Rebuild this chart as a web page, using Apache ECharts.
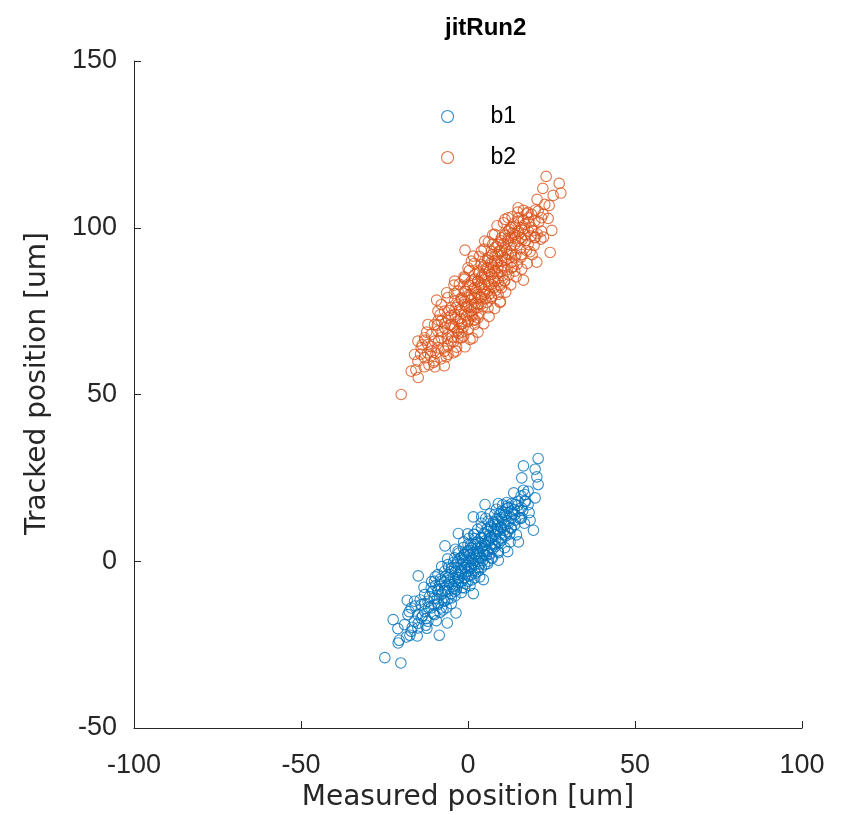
<!DOCTYPE html>
<html>
<head>
<meta charset="utf-8">
<script src="https://cdn.jsdelivr.net/npm/echarts@6/dist/echarts.min.js"></script>
<style>html,body{margin:0;padding:0;background:#fff;}#c{width:854px;height:815px;}</style>
</head>
<body>
<div id="c"></div>
<script>
var titleText = 'jitRun2';
var xAxisName = 'Measured position [um]';
var yAxisName = 'Tracked position [um]';
var seriesNames = ['b1', 'b2'];
var xTicks = [-100, -50, 0, 50, 100];
var yTicks = [-50, 0, 50, 100, 150];

// b1 (blue): [measured, tracked]
var b1Outliers = [[-24.9,-28.9],[-20.1,-30.5],[-20.6,-23.7],[-20.9,-24.5],[-17.4,-22.2],[-8.6,-22.2],[-6.2,-18.5],
 [-22.4,-17.5],[-21,-20.2],[-14.9,-4.4],[-3.6,-15.5],[-12.6,-19.2],[-18.2,-11.7],[1.6,-9.7],[4.6,-5.5],[9.1,0.3],
 [21,30.8],[16.6,28.6],[20.1,27.6],[20.6,25.3],[16.1,25],[21,23],[16.6,21.3],[20.1,19],[5.1,17],[11.6,17.6],
 [9.1,17.3],[1.6,13.3],[4.1,13.3],[19.6,9.3],[18.6,12.3],[15.6,12.8],[15.1,5.8],[-6.9,4.6],[-2.9,8.3],[12.6,5.8]];
var b1Core = [[-19,-19],[-18,-16],[-17,-21],[-17,-14],[-16,-18],[-16,-12],[-15,-16],[-15,-20],[-14,-13],[-14,-17],
 [-13,-10],[-13,-15],[-12,-18],[-12,-12],[-11,-14],[-11,-8],[-10,-11],[-10,-16],[-10,-6],[-9,-13],[-9,-9],[-9,-4],
 [-8,-10],[-8,-14],[-8,-6],[-7,-8],[-7,-3],[-7,-12],[-6,-9],[-6,-5],[-6,-1],[-5,-7],[-5,-3],[-5,-11],[-4,-6],[-4,-2],
 [-4,1],[-4,-9],[-3,-4],[-3,0],[-3,-7],[-3,3],[-2,-3],[-2,-6],[-2,1],[-2,-1],[-1,-2],[-1,2],[-1,-5],[-1,-8],[0,0],
 [0,-3],[0,3],[0,-6],[0,5],[1,1],[1,-2],[1,4],[1,-4],[2,2],[2,-1],[2,5],[2,-5],[2,8],[3,3],[3,0],[3,6],[3,-3],[4,4],
 [4,1],[4,7],[4,-2],[4,10],[5,5],[5,2],[5,8],[5,-1],[6,6],[6,3],[6,9],[6,0],[6,12],[7,7],[7,4],[7,10],[7,1],[8,8],
 [8,5],[8,11],[8,14],[9,9],[9,6],[9,12],[9,3],[10,10],[10,7],[10,13],[10,15],[11,11],[11,8],[11,14],[12,12],[12,9],
 [12,16],[13,13],[13,10],[13,15],[14,14],[14,11],[14,17],[15,15],[15,18],[16,16],[16,13],[17,18],[17,20],[18,17],[18,21],
 [-7.8,-9.6],[-6.3,-7.1],[-5.1,-9.8],[-4.4,-5.2],[-3.7,-3.1],[-2.9,-6.4],[-2.2,-2.7],[-1.6,0.4],[-0.8,-3.9],[-0.3,-1.2],
 [0.4,1.8],[0.9,-1.5],[1.5,2.6],[2.1,0.3],[2.7,3.9],[3.3,1.2],[3.8,5.4],[4.5,2.9],[5.2,6.1],[5.8,3.3],[6.4,7.7],[7.1,5.2],
 [7.7,9.4],[8.3,6.6],[8.9,10.8],[9.6,8.1],[10.2,12.5],[10.9,9.3],[11.5,13.6],[12.2,11.4],[-9.3,-11.2],[-8.6,-7.4],
 [-7.2,-11.8],[-6.7,-4.6],[-5.6,-6.3],[-4.9,-2.1],[-4.1,-8.2],[-3.3,-0.9],[-2.6,-5.0],[-1.9,-3.6],[-1.2,1.9],[-0.6,-0.5],
 [0.1,-4.4],[0.7,3.2],[1.2,0.6],[1.9,-2.8],[2.4,5.7],[3.0,2.2],[3.6,-0.8],[4.2,4.6],[4.8,8.3],[5.5,1.7],[6.1,5.9],
 [6.8,10.6],[7.4,3.6],[8.0,8.9],[8.7,12.7],[9.3,5.4],[9.9,10.3],[10.6,14.8],[11.3,7.6],[12.0,15.9],[12.8,9.9],[13.4,14.2],
 [14.1,12.3],[14.8,16.7],[-11.8,-13.9],[-10.7,-9.1],[-10.1,-13.1],[-9.7,-7.3],[-8.9,-12.6],[-8.2,-5.3],[-7.5,-14.6],
 [-6.9,-8.8],[-6.0,-11.3],[-5.4,-4.0],[-4.6,-7.7],[-3.9,-10.4],[-3.1,-4.9],[-2.4,0.8],[-1.7,-7.9],[-1.0,-1.8],[-0.4,2.7],
 [0.2,-2.1],[0.8,4.9],[1.4,-0.6],[2.0,6.8],[2.6,1.5],[3.2,-1.9],[3.9,7.1],[4.4,0.2],[5.0,3.9],[5.7,9.7],[6.3,2.1],
 [6.9,7.3],[7.6,11.8],[8.1,4.4],[8.8,9.7],[9.5,13.9],[10.1,6.3],[10.8,11.6],[11.7,16.5],[12.5,8.2],[13.1,17.3],[13.9,15.5],
 [15.3,13.1],[15.9,19.6],[16.4,15.2],[17.2,17.9],[-16.7,-19.8],[-15.8,-13.4],[-14.9,-18.6],[-14.3,-11.6],[-13.6,-16.4],
 [-12.9,-12.7],[-12.3,-20.1],[-11.5,-10.6],[-10.4,-15.7],[-9.8,-4.7],[-9.0,-8.5],[-8.4,-15.3],[-7.0,-6.2],[-6.5,-13.9],
 [-5.8,-1.8],[-5.0,-12.7],[-4.3,-0.3],[-3.5,-8.6],[-2.8,2.4],[-2.0,-9.4],[-1.4,4.1],[-0.7,-6.8],[0.3,6.9],[0.6,-7.3],
 [1.7,8.1],[1.1,-5.6],[2.9,9.6],[2.3,-3.6],[4.0,11.4],[3.5,-4.7],[5.3,12.9],[5.9,-0.7],[6.6,14.2],[7.3,0.9],[8.5,15.6],
 [9.1,2.6],[10.4,16.9],[11.0,4.1],[-13.2,-7.8],[-10.9,-6.1],[-17.6,-15.1],[-18.4,-22.7],[-15.2,-22.4],[-12.6,-17.2],
 [-9.5,-17.8],[-7.9,-1.6],[-6.1,0.7],[-3.8,3.6],[-1.3,5.8],[-0.1,8.2],[14.5,7.9],[16.9,11.4],[18.3,14.6],[13.7,20.5],[11.9,2.9]];

// b2 (orange): [measured, tracked]
var b2Outliers = [[-20,50],[-14.9,55.1],[-13.1,58.3],[-9.9,58.3],[-10.1,60.1],[-12.1,62.5],[-4.4,62.5],[-3.6,63],
 [0.6,66.5],[-12.9,66.3],[-9.4,78.3],[-4.2,82.8],[-1.2,85.3],[16.6,84.3],[9.6,77.6],[2.1,72.3],[-1.9,68.8],[-8.9,72.3],
 [-6.4,80.5],[23.4,115.4],[27.3,113.3],[27.8,110.4],[22.4,111.8],[20.7,108.5],[24.3,106.7],[25.5,109.7],[11.1,102.5],
 [14.1,100.2],[16.6,105.2],[17.6,104.2],[24,102.8],[24.6,92.6],[25.1,99.2],[22.6,97.2],[-0.9,93.3],[1.6,91.5],[7.4,95.1],
 [20.6,89.7],[20.1,97.2]];
var b2Core = [[-17,57],[-16,62],[-15,60],[-14,64],[-13,61],[-13,67],[-12,65],[-11,68],[-11,63],[-10,66],[-10,71],[-9,69],
 [-9,64],[-8,72],[-8,67],[-7,70],[-7,75],[-6,68],[-6,73],[-5,71],[-5,76],[-5,66],[-4,74],[-4,78],[-4,70],[-3,72],[-3,77],
 [-3,81],[-2,75],[-2,79],[-2,71],[-1,77],[-1,81],[-1,74],[0,79],[0,76],[0,83],[0,72],[1,80],[1,77],[1,84],[1,74],[2,82],
 [2,79],[2,86],[2,76],[3,84],[3,80],[3,87],[3,77],[4,85],[4,82],[4,89],[4,79],[5,86],[5,83],[5,90],[5,80],[6,88],[6,84],
 [6,91],[6,81],[7,89],[7,86],[7,93],[7,83],[8,90],[8,87],[8,94],[8,84],[9,92],[9,88],[9,95],[9,85],[10,93],[10,90],[10,97],
 [10,87],[11,94],[11,91],[11,98],[11,88],[12,96],[12,92],[12,99],[13,97],[13,93],[13,100],[14,98],[14,95],[14,91],[15,99],
 [15,96],[15,102],[16,100],[16,97],[17,101],[17,98],[18,103],[18,99],[19,104],[19,100],[20,102],[21,105],[22,103],[23,107],
 [-8,77],[-6,62],[-4,84],[-2,67],[0,88],[2,71],[4,93],[6,76],[8,98],[10,82],[12,103],[14,87],[-12,71],[-15,66],[1,90],
 [3,73],[5,96],[7,79],[9,80],[11,84],[13,88],[16,92],[18,95],[-1,85],[-3,67],[-7,63],[-9,75],[20,97],[22,99],[15,106],
 [-6.2,66.8],[-5.4,70.9],[-4.7,67.3],[-3.9,72.6],[-3.2,69.1],[-2.5,75.4],[-1.8,71.2],[-1.1,77.9],[-0.4,73.6],[0.3,79.8],
 [1.0,75.1],[1.6,81.7],[2.3,77.4],[2.9,83.9],[3.6,79.2],[4.2,85.6],[4.9,80.8],[5.5,87.9],[6.2,82.6],[6.8,89.4],[7.5,84.7],
 [8.1,91.6],[8.8,86.2],[9.4,93.1],[10.1,88.5],[10.7,95.2],[11.4,90.3],[12.0,96.8],[12.7,92.1],[13.3,98.4],[-7.4,63.9],
 [-6.8,71.4],[-5.9,64.6],[-5.0,73.7],[-4.3,65.9],[-3.6,76.1],[-2.8,68.3],[-2.1,78.6],[-1.5,70.1],[-0.7,80.9],[-0.1,71.8],
 [0.6,82.7],[1.3,73.5],[2.0,84.6],[2.6,75.9],[3.3,86.4],[3.9,77.1],[4.6,88.2],[5.2,78.7],[5.9,90.3],[6.5,80.2],[7.2,91.9],
 [7.8,82.1],[8.5,94.3],[9.1,83.8],[9.8,96.1],[10.4,85.7],[11.1,97.6],[11.7,87.4],[12.4,99.5],[13.0,89.6],[13.7,101.2],
 [14.3,91.8],[15.0,102.9],[15.6,93.7],[16.2,96.4],[16.9,99.8],[17.5,93.2],[18.2,101.6],[18.8,97.5],[-9.6,62.4],[-8.8,66.1],
 [-8.1,60.7],[-7.7,68.8],[-6.5,61.3],[-5.7,75.2],[-4.5,70.4],[-3.4,64.2],[-2.3,72.8],[-1.3,67.5],[-0.5,76.4],[0.1,69.6],
 [0.9,78.3],[1.8,72.4],[2.5,80.6],[3.1,74.2],[3.7,82.9],[4.4,76.3],[5.1,84.5],[5.7,77.6],[6.4,86.8],[7.0,79.4],[7.6,88.1],
 [8.3,81.2],[8.9,89.9],[9.6,82.7],[10.3,91.7],[10.9,84.2],[11.5,93.4],[12.2,85.9],[12.9,94.8],[13.5,88.3],[14.1,96.9],
 [14.7,89.1],[15.3,98.2],[15.9,91.2],[16.6,102.3],[17.3,96.1],[17.9,104.6],[18.6,92.8],[19.4,99.1],[20.1,105.3],[21.2,101.7],
 [21.8,96.6],[22.5,104.1],[-11.7,58.9],[-10.8,64.3],[-10.3,59.6],[-9.2,70.8],[-12.4,68.7],[-14.2,62.1],[-15.6,57.4],
 [-13.7,64.9],[-11.2,61.5],[-8.4,73.9],[-7.1,58.6],[-6.0,79.1],[-4.1,80.3],[-2.6,83.1],[-1.0,84.6],[0.4,87.2],[1.9,89.3],
 [3.4,91.4],[4.8,93.6],[6.1,95.8],[7.4,97.9],[8.7,100.6],[-0.9,64.3],[1.4,66.9],[3.0,68.7],[4.7,71.2],[6.3,73.4],[8.0,75.8],
 [9.7,77.9],[11.3,80.7],[12.8,82.9],[14.4,85.3],[16.1,87.6],[17.7,89.3],[19.2,91.9],[19.8,94.7],[20.7,98.2],[14.9,104.7],
 [13.2,103.3],[10.6,101.5]];

var colors = ['#0072BD', '#D95319'];
var axisColor = '#262626';
var sansFont = '"Liberation Sans", Arial, Helvetica, sans-serif';
var wideFont = '"DejaVu Sans", "Liberation Sans", sans-serif';

var chart = echarts.init(document.getElementById('c'), null, {renderer: 'canvas'});
function makeSeries(name, data, color) {
  return {
    name: name,
    type: 'scatter',
    data: data,
    symbol: 'circle',
    symbolSize: 10.5,
    itemStyle: {color: 'rgba(255,255,255,0)', borderColor: color, borderWidth: 1.1},
    emphasis: {disabled: true},
    animation: false
  };
}
chart.setOption({
  animation: false,
  backgroundColor: '#ffffff',
  title: {
    text: titleText, left: 440, top: 11,
    textStyle: {fontFamily: sansFont, fontSize: 24, fontWeight: 'bold', color: '#000'}
  },
  legend: {
    orient: 'vertical', left: 436, top: 100,
    itemWidth: 12, itemHeight: 12, itemGap: 18,
    data: seriesNames.map(function (n, i) {
      return {name: n, icon: 'circle',
        itemStyle: {color: 'rgba(255,255,255,0)', borderColor: colors[i], borderWidth: 1.1}};
    }),
    textStyle: {fontFamily: sansFont, fontSize: 23, color: '#000', padding: [0, 0, 0, 32]}
  },
  grid: {left: 134, right: 52, top: 61, bottom: 87, containLabel: false, outerBoundsMode: 'none'},
  xAxis: {
    type: 'value', min: xTicks[0], max: xTicks[xTicks.length - 1], interval: 50,
    name: xAxisName, nameLocation: 'middle', nameGap: 55,
    nameTextStyle: {fontFamily: wideFont, fontSize: 28, color: axisColor},
    axisLine: {show: true, onZero: false, lineStyle: {color: axisColor, width: 1}},
    axisTick: {show: true, inside: true, length: 7, lineStyle: {color: axisColor}},
    axisLabel: {fontFamily: sansFont, fontSize: 27, color: axisColor, margin: 24},
    splitLine: {show: false}
  },
  yAxis: {
    type: 'value', min: yTicks[0], max: yTicks[yTicks.length - 1], interval: 50,
    name: yAxisName, nameLocation: 'middle', nameGap: 82, nameRotate: 90,
    nameTextStyle: {fontFamily: wideFont, fontSize: 28, color: axisColor, padding: [0, 0, 0, 22]},
    axisLine: {show: true, onZero: false, lineStyle: {color: axisColor, width: 1}},
    axisTick: {show: true, inside: true, length: 7, lineStyle: {color: axisColor}},
    axisLabel: {fontFamily: sansFont, fontSize: 27, color: axisColor, margin: 17},
    splitLine: {show: false}
  },
  series: [
    makeSeries(seriesNames[0], b1Outliers.concat(b1Core), colors[0]),
    makeSeries(seriesNames[1], b2Outliers.concat(b2Core), colors[1])
  ]
});
</script>
</body>
</html>
